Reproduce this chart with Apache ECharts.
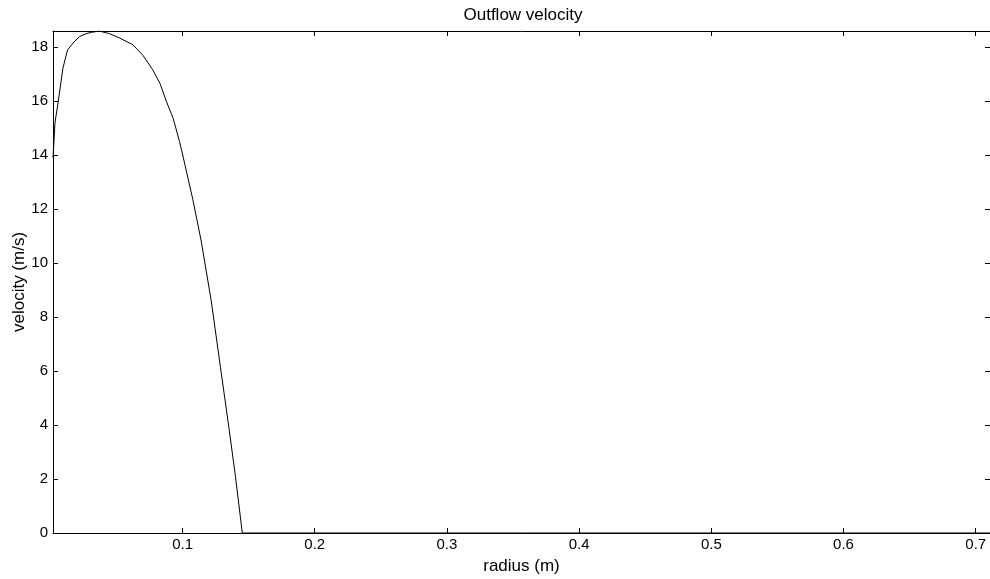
<!DOCTYPE html>
<html>
<head>
<meta charset="utf-8">
<script src="https://cdn.jsdelivr.net/npm/echarts@6/dist/echarts.min.js"></script>
<style>html,body{margin:0;padding:0;background:#fff;}#c{width:990px;height:579px;}</style>
</head>
<body>
<div id="c"></div>
<script>
const radius = [0.002, 0.0035, 0.006, 0.0095, 0.013, 0.018, 0.022, 0.027, 0.031, 0.037, 0.0448, 0.052, 0.0624, 0.07, 0.0775, 0.083, 0.0877, 0.093, 0.0977, 0.0995, 0.1078, 0.1141, 0.1217, 0.1287, 0.1348, 0.14, 0.1452, 0.2, 0.3, 0.4, 0.5, 0.6, 0.7108];
const velocity = [13.9, 15.2, 16.0, 17.22, 17.9, 18.2, 18.39, 18.5, 18.55, 18.6, 18.5, 18.35, 18.09, 17.7, 17.16, 16.65, 16.0, 15.35, 14.5, 14.14, 12.35, 10.82, 8.6, 6.13, 4.0, 2.1, 0, 0, 0, 0, 0, 0, 0];
const xTicks = [0.1, 0.2, 0.3, 0.4, 0.5, 0.6, 0.7];
const yTicks = [0, 2, 4, 6, 8, 10, 12, 14, 16, 18];
const xRange = [0.002, 0.7108];
const yRange = [0, 18.6];

const font = 'Liberation Sans, Arial, sans-serif';
const chart = echarts.init(document.getElementById('c'), null, {renderer: 'canvas'});
const axisLine = {show: true, onZero: false, lineStyle: {color: '#000', width: 1}};
const tick = (vals) => ({show: true, inside: true, length: 5, customValues: vals, lineStyle: {color: '#000', width: 1}});
chart.setOption({
  animation: false,
  backgroundColor: '#fff',
  title: {text: 'Outflow velocity', left: 518, top: 2, textAlign: 'center',
    textStyle: {fontFamily: font, fontSize: 17, fontWeight: 'normal', color: '#000'}},
  grid: {left: 53, right: 0, top: 31, bottom: 46, containLabel: false, outerBoundsMode: 'none'},
  xAxis: [
    {type: 'value', min: xRange[0], max: xRange[1], position: 'bottom',
     name: 'radius (m)', nameLocation: 'middle', nameGap: 25,
     nameTextStyle: {fontFamily: font, fontSize: 17, color: '#000'},
     axisLine: axisLine, axisTick: tick(xTicks), splitLine: {show: false},
     axisLabel: {customValues: xTicks, fontFamily: font, fontSize: 15, color: '#000', margin: 4,
       formatter: v => String(+v.toFixed(1))}},
    {type: 'value', min: xRange[0], max: xRange[1], position: 'top',
     axisLine: axisLine, axisTick: tick(xTicks), axisLabel: {show: false}, splitLine: {show: false}}
  ],
  yAxis: [
    {type: 'value', min: yRange[0], max: yRange[1], position: 'left',
     name: 'velocity (m/s)', nameLocation: 'middle', nameGap: 25, nameRotate: 90, nameMoveOverlap: false,
     nameTextStyle: {fontFamily: font, fontSize: 17, color: '#000'},
     axisLine: axisLine, axisTick: tick(yTicks), splitLine: {show: false},
     axisLabel: {customValues: yTicks, fontFamily: font, fontSize: 15, color: '#000', margin: 5}},
    {type: 'value', min: yRange[0], max: yRange[1], position: 'right',
     axisLine: axisLine, axisTick: tick(yTicks), axisLabel: {show: false}, splitLine: {show: false}}
  ],
  series: [{
    type: 'line', xAxisIndex: 0, yAxisIndex: 0,
    data: radius.map((r, i) => [r, velocity[i]]),
    showSymbol: false, smooth: false,
    lineStyle: {color: '#000', width: 1},
    clip: true
  }]
});
</script>
</body>
</html>
